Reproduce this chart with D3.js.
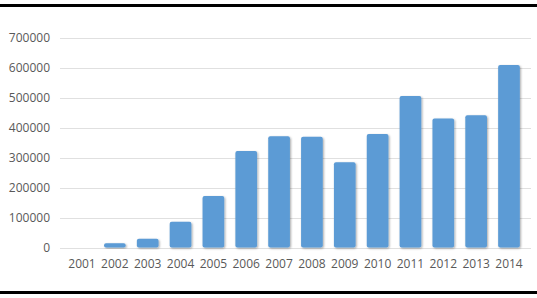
<!DOCTYPE html>
<html>
<head>
<meta charset="utf-8">
<script src="https://cdn.jsdelivr.net/npm/d3@7"></script>
<style>
  body { margin: 0; background: #fff; }
  svg { display: block; }
</style>
</head>
<body>
<div id="chart"></div>
<script>
const years = ["2001", "2002", "2003", "2004", "2005", "2006", "2007",
  "2008", "2009", "2010", "2011", "2012", "2013", "2014"];
const values = [0, 14000, 29000, 86000, 172000, 322000, 371000,
  369000, 284000, 378000, 505000, 430000, 441000, 608000];
const yTicks = [0, 100000, 200000, 300000, 400000, 500000, 600000, 700000];

const width = 537;
const height = 298;
const margin = { top: 37.5, right: 6, bottom: 50.5, left: 60 };

const svg = d3.select("#chart")
  .append("svg")
  .attr("width", width)
  .attr("height", height);

const defs = svg.append("defs");
const shadow = defs.append("filter").attr("id", "shadow")
  .attr("x", "-20%").attr("y", "-10%").attr("width", "150%").attr("height", "130%");
shadow.append("feDropShadow")
  .attr("dx", 1).attr("dy", 1).attr("stdDeviation", 1.2)
  .attr("flood-color", "#000").attr("flood-opacity", 0.35);

// frame lines top and bottom
svg.append("rect").attr("x", 0).attr("y", 4).attr("width", width).attr("height", 3).attr("fill", "#000");
svg.append("rect").attr("x", 0).attr("y", 291).attr("width", width).attr("height", 3).attr("fill", "#000");

const x = d3.scaleBand()
  .domain(years)
  .range([margin.left, width - margin.right])
  .padding(0.34);

const y = d3.scaleLinear()
  .domain([0, 700000])
  .range([height - margin.bottom, margin.top]);

// gridlines
svg.append("g")
  .selectAll("line")
  .data(yTicks)
  .enter()
  .append("line")
  .attr("x1", margin.left)
  .attr("x2", width - margin.right)
  .attr("y1", d => Math.round(y(d)) + 0.5)
  .attr("y2", d => Math.round(y(d)) + 0.5)
  .attr("stroke", "#e0e0e0")
  .attr("stroke-width", 1);

// y labels
svg.append("g")
  .selectAll("text")
  .data(yTicks)
  .enter()
  .append("text")
  .attr("x", 50)
  .attr("y", d => y(d))
  .attr("dy", "0.35em")
  .attr("text-anchor", "end")
  .style("font-family", "'Open Sans', sans-serif")
  .style("font-size", "12px")
  .style("fill", "#595959")
  .text(d => d);

// bars
svg.append("g")
  .selectAll("rect")
  .data(years.map((yr, i) => ({ year: yr, value: values[i] })))
  .enter()
  .append("rect")
  .attr("x", d => x(d.year))
  .attr("y", d => y(d.value))
  .attr("width", x.bandwidth())
  .attr("height", d => y(0) - y(d.value))
  .attr("rx", 2)
  .attr("fill", "#5b9bd5")
  .attr("filter", "url(#shadow)");

// x labels
svg.append("g")
  .selectAll("text")
  .data(years)
  .enter()
  .append("text")
  .attr("x", d => x(d) + x.bandwidth() / 2)
  .attr("y", y(0) + 16)
  .attr("dy", "0.35em")
  .attr("text-anchor", "middle")
  .style("font-family", "'Open Sans', sans-serif")
  .style("font-size", "12px")
  .style("fill", "#595959")
  .text(d => d);
</script>
</body>
</html>
